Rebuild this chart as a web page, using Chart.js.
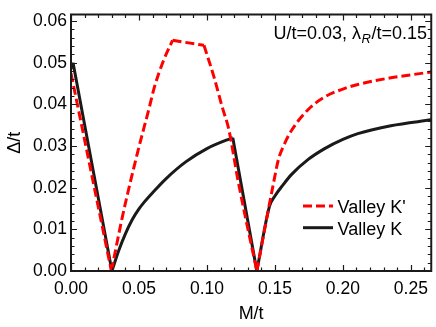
<!DOCTYPE html>
<html><head><meta charset="utf-8">
<script src="https://cdn.jsdelivr.net/npm/chart.js@4/dist/chart.umd.min.js"></script>
<style>html,body{margin:0;padding:0;background:#fff}#wrap{width:436px;height:327px}</style>
</head><body><div id="wrap"><canvas id="c" width="436" height="327"></canvas></div>
<script>
// ---- data ----
const seriesLabels = ["Valley K'", "Valley K"];
const kPrimeM = [0, 0.0297, 0.0370, 0.0401, 0.0490, 0.0577, 0.0613, 0.0680, 0.0747, 0.0978, 0.1050, 0.1112, 0.1160, 0.1230, 0.1367, 0.1489, 0.1526, 0.1570, 0.1623, 0.1745, 0.1866, 0.2000, 0.2110, 0.2353, 0.2500, 0.2650];
const kPrimeD = [0.0475, 0, 0.0118, 0.0164, 0.0285, 0.0394, 0.0441, 0.0505, 0.0554, 0.0542, 0.0468, 0.0394, 0.0341, 0.0215, 0, 0.0210, 0.0268, 0.0305, 0.0338, 0.0388, 0.0418, 0.0437, 0.0448, 0.0464, 0.0471, 0.0478];
// corners (M values) where the K' curve has a kink
const kPrimeKinks = [0.0297, 0.0747, 0.0978, 0.1367];
const kM = [0, 0.0015, 0.0301, 0.0350, 0.0400, 0.0450, 0.0500, 0.0540, 0.0600, 0.0700, 0.0844, 0.1000, 0.1173, 0.1190, 0.1367, 0.1460, 0.1500, 0.1560, 0.1623, 0.1745, 0.1866, 0.2000, 0.2110, 0.2353, 0.2650];
const kD = [0.0485, 0.0500, 0, 0.0048, 0.0089, 0.0123, 0.0149, 0.0166, 0.0188, 0.0222, 0.0262, 0.0294, 0.0318, 0.0320, 0, 0.0155, 0.0180, 0.0207, 0.0232, 0.0268, 0.0294, 0.0316, 0.0330, 0.0349, 0.0363];
const kKinks = [0.0015, 0.0301, 0.1190, 0.1367];
const xTicks = [0, 0.05, 0.10, 0.15, 0.20, 0.25];
const yTicks = [0, 0.01, 0.02, 0.03, 0.04, 0.05, 0.06];
const xTitle = 'M/t';
const yTitle = 'Δ/t';
const annoA = 'U/t=0.03, λ';
const annoSub = 'R';
const annoB = '/t=0.15';

const FONT = '"Liberation Sans", Arial, Helvetica, sans-serif';

// split a series into smooth pieces at its kinks (the kink point is shared by both pieces)
function pieces(xs, ys, kinks) {
  const out = [];
  let cur = [];
  xs.forEach((v, i) => {
    cur.push({x: v, y: ys[i]});
    if (kinks.some(k => Math.abs(k - v) < 1e-9)) {
      out.push(cur);
      cur = [{x: v, y: ys[i]}];
    }
  });
  if (cur.length > 1) out.push(cur);
  return out;
}

const redStyle = {borderColor: '#ff0000', borderWidth: 3, borderDash: [9, 4]};
const blackStyle = {borderColor: '#1a1a1a', borderWidth: 3, borderDash: []};

const datasets = [];
pieces(kPrimeM, kPrimeD, kPrimeKinks).forEach((p, j) => datasets.push(Object.assign({
  label: seriesLabels[0], inLegend: j === 0, data: p, pointRadius: 0,
  cubicInterpolationMode: 'monotone', fill: false, order: 0
}, redStyle)));
pieces(kM, kD, kKinks).forEach((p, j) => datasets.push(Object.assign({
  label: seriesLabels[1], inLegend: j === 0, data: p, pointRadius: 0,
  cubicInterpolationMode: 'monotone', fill: false, order: 1
}, blackStyle)));

const frameTicks = {
  id: 'frameTicks',
  afterDatasetsDraw(chart) {
    const {ctx, chartArea: a, scales: {x, y}} = chart;
    ctx.save();
    ctx.strokeStyle = '#1a1a1a';
    ctx.lineWidth = 1.2;
    ctx.beginPath();
    for (let i = 0; i <= 40; i++) {
      const v = i * 0.01;
      if (v > x.max + 1e-9) break;
      const px = Math.round(x.getPixelForValue(v)) + 0.5;
      const L = (i % 5 === 0) ? 6 : 3.5;
      ctx.moveTo(px, a.bottom); ctx.lineTo(px, a.bottom - L);
      ctx.moveTo(px, a.top); ctx.lineTo(px, a.top + L);
    }
    for (let i = 0; i <= 40; i++) {
      const v = i * 0.002;
      if (v > y.max + 1e-9) break;
      const py = Math.round(y.getPixelForValue(v)) + 0.5;
      const L = (i % 5 === 0) ? 6 : 3.5;
      ctx.moveTo(a.left, py); ctx.lineTo(a.left + L, py);
      ctx.moveTo(a.right, py); ctx.lineTo(a.right - L, py);
    }
    ctx.stroke();
    ctx.lineWidth = 2;
    ctx.strokeRect(a.left, a.top, a.right - a.left, a.bottom - a.top);

    // annotation
    ctx.fillStyle = '#000';
    ctx.textBaseline = 'alphabetic';
    const base = 38.5;
    ctx.font = '18px ' + FONT;
    const wA = ctx.measureText(annoA).width;
    const wB = ctx.measureText(annoB).width;
    ctx.font = 'italic 13px ' + FONT;
    const wS = ctx.measureText(annoSub).width;
    const right = 427;
    const sx = right - wA - wS - wB - 1;
    ctx.font = '18px ' + FONT;
    ctx.fillText(annoA, sx, base);
    ctx.font = 'italic 13px ' + FONT;
    ctx.fillText(annoSub, sx + wA + 0.5, base + 4);
    ctx.font = '18px ' + FONT;
    ctx.fillText(annoB, sx + wA + wS + 1, base);

    // legend
    chart.data.datasets.filter(ds => ds.inLegend).forEach((ds, i) => {
      const ly = 206 + i * 21.7;
      ctx.save();
      ctx.strokeStyle = ds.borderColor;
      ctx.lineWidth = ds.borderWidth;
      ctx.setLineDash(ds.borderDash || []);
      ctx.beginPath();
      ctx.moveTo(303, ly); ctx.lineTo(333, ly);
      ctx.stroke();
      ctx.restore();
      ctx.font = '18px ' + FONT;
      ctx.fillStyle = '#000';
      ctx.fillText(ds.label, 337.5, ly + 7.3);
    });
    ctx.restore();
  }
};

new Chart(document.getElementById('c'), {
  type: 'line',
  data: {datasets},
  options: {
    responsive: false,
    animation: false,
    devicePixelRatio: 1,
    layout: {padding: {left: 0, top: 4, right: 2, bottom: 0}},
    plugins: {legend: {display: false}, tooltip: {enabled: false}},
    scales: {
      x: {
        type: 'linear', min: 0, max: 0.265,
        grid: {display: false, drawTicks: false},
        border: {display: false},
        afterBuildTicks: s => { s.ticks = xTicks.map(v => ({value: v})); },
        afterFit: s => { s.height = 56; },
        ticks: {color: '#000', padding: 8, maxRotation: 0, font: {family: FONT, size: 17.5}, callback: v => Number(v).toFixed(2)},
        title: {display: true, text: xTitle, color: '#000', font: {family: FONT, size: 18}, padding: {top: 0, bottom: 2}}
      },
      y: {
        type: 'linear', min: 0, max: 0.0616,
        grid: {display: false, drawTicks: false},
        border: {display: false},
        afterBuildTicks: s => { s.ticks = yTicks.map(v => ({value: v})); },
        afterFit: s => { s.width = 71; },
        ticks: {color: '#000', padding: 4, font: {family: FONT, size: 17.5}, callback: v => Number(v).toFixed(2)},
        title: {display: true, text: yTitle, color: '#000', font: {family: FONT, size: 18}, padding: {top: 4, bottom: 0}}
      }
    }
  },
  plugins: [frameTicks]
});
</script>
</body></html>
